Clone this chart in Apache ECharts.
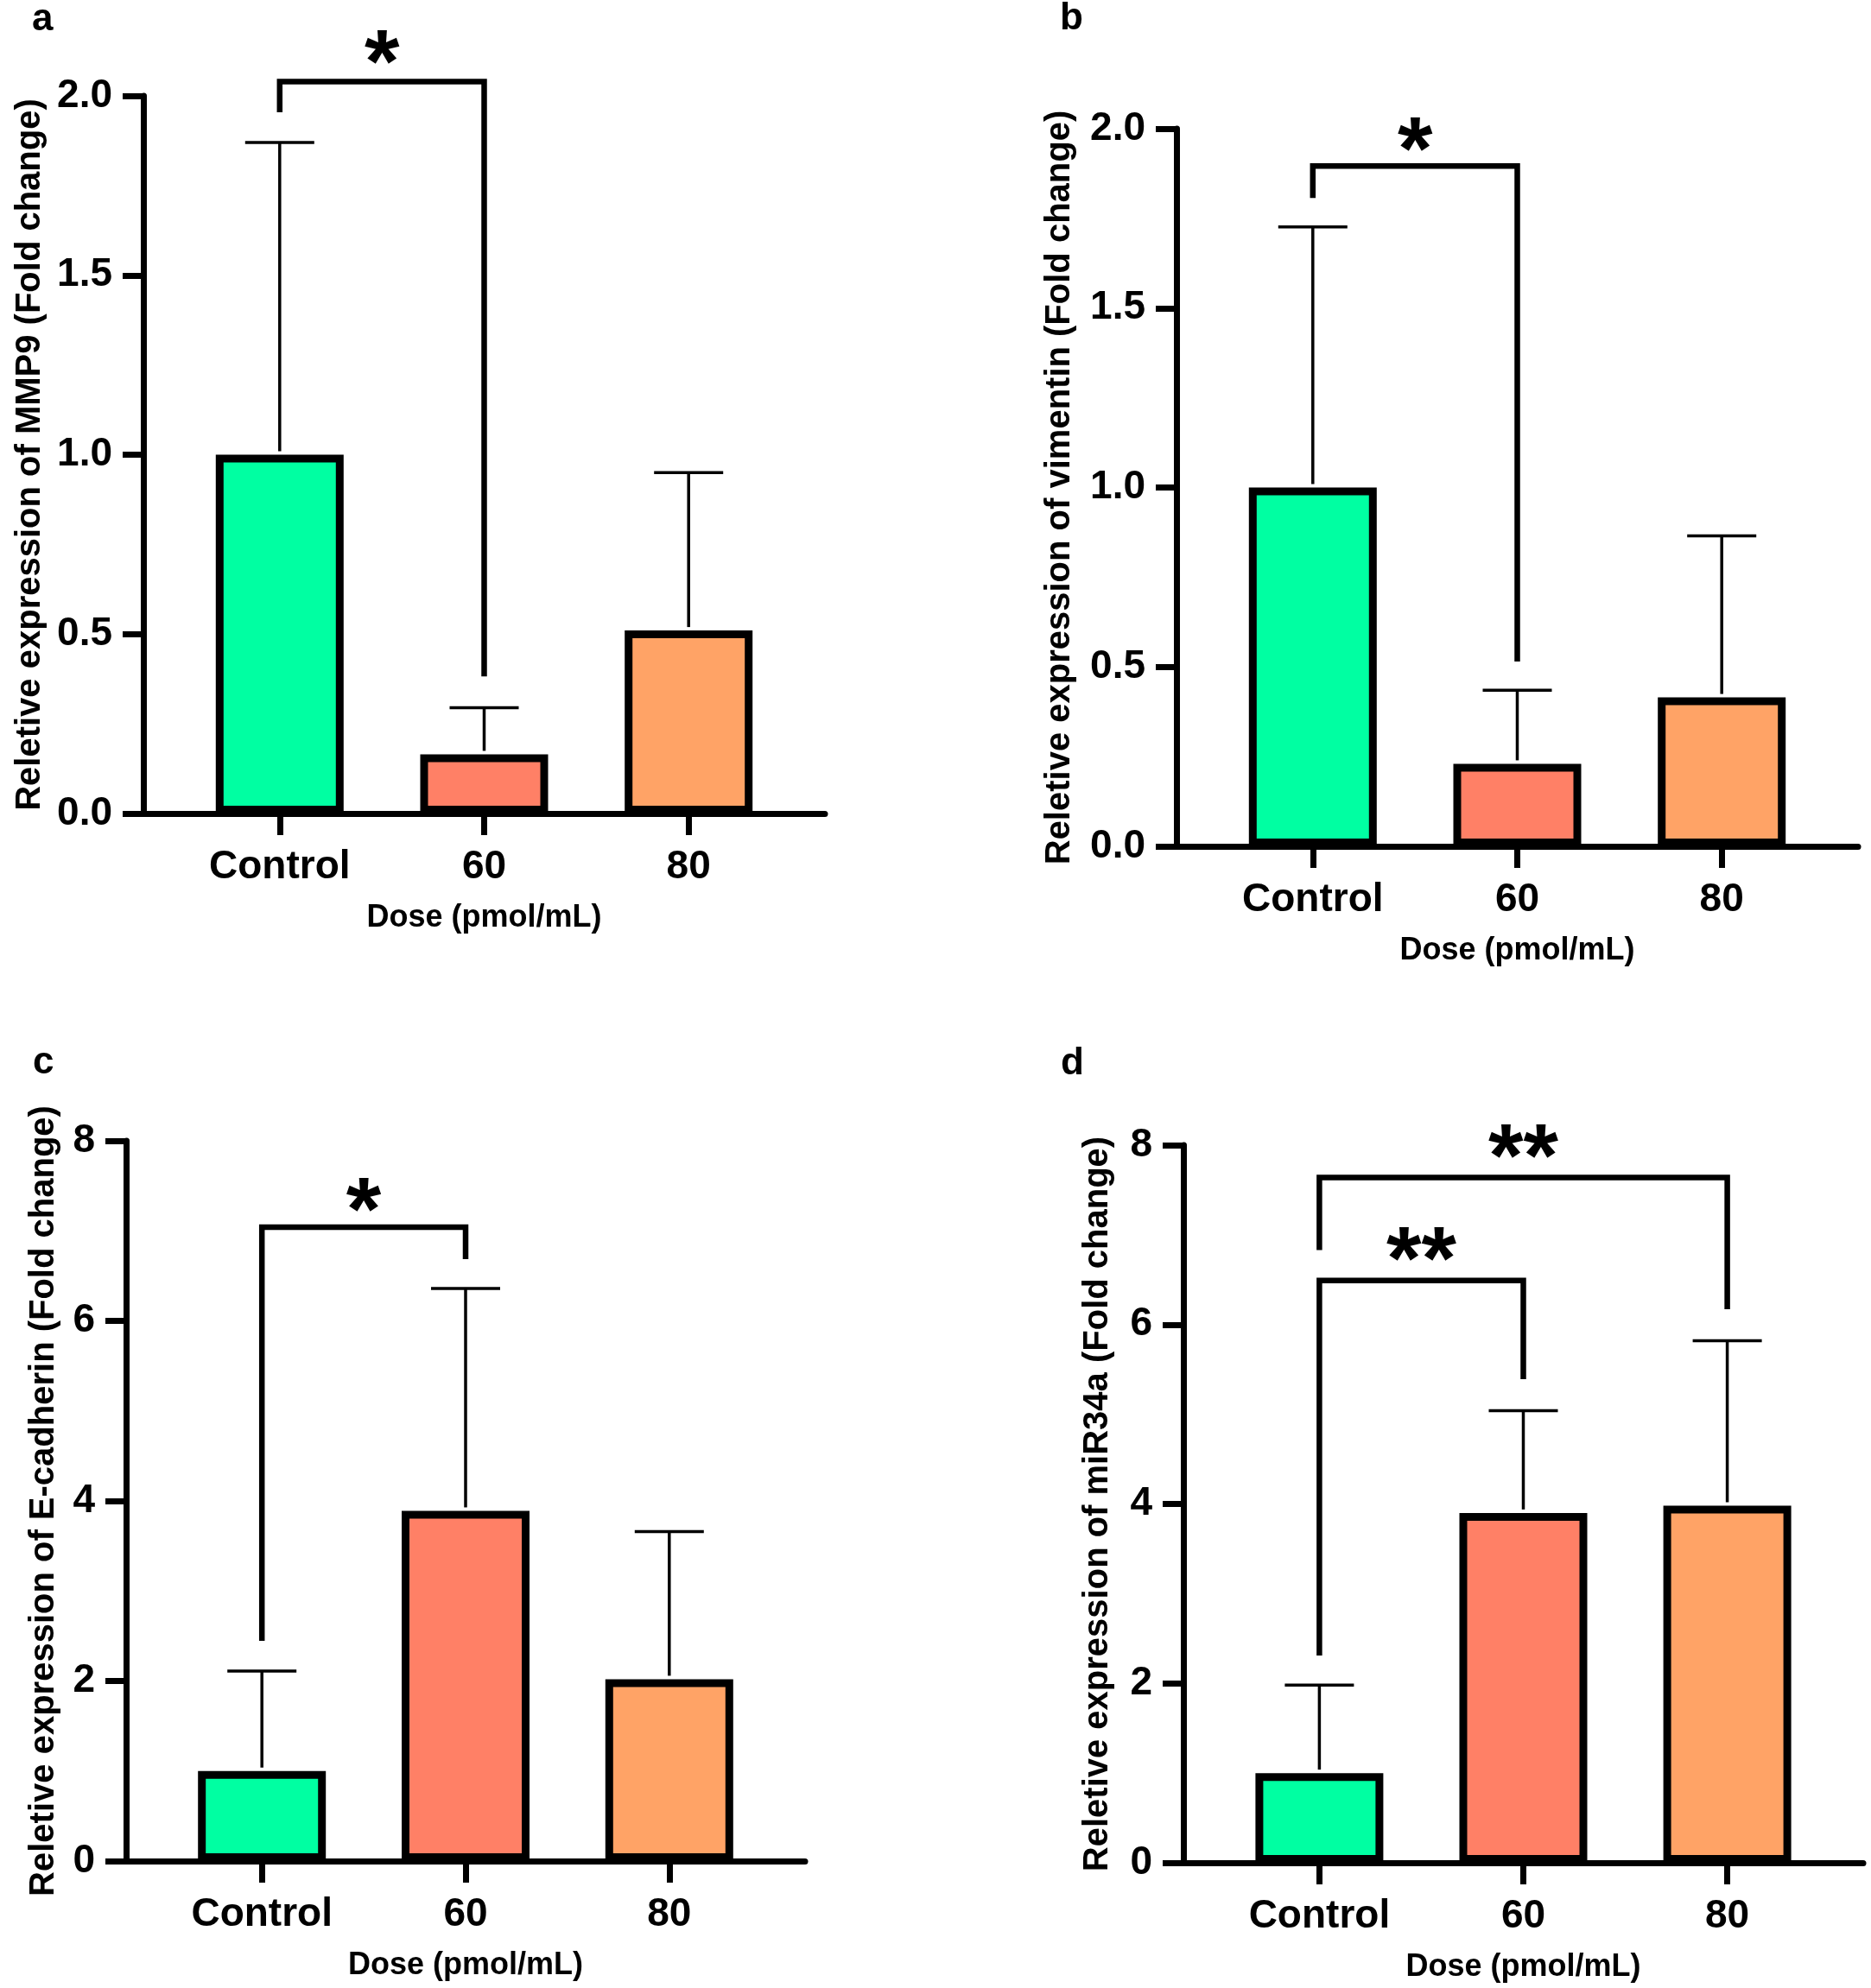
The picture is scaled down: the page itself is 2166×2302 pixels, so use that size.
<!DOCTYPE html>
<html><head><meta charset="utf-8">
<script src="https://cdn.jsdelivr.net/npm/echarts@6/dist/echarts.min.js"></script>
<style>html,body{margin:0;padding:0;background:#fff}#c{width:2166px;height:2302px}</style>
</head><body><div id="c"></div>
<script>
// ---------- data ----------
const categories = ['Control', '60', '80'];
const barColors = ['#00FFA2', '#FF8066', '#FFA366'];

const mmp9Mean = [1.0, 0.165, 0.51];
const mmp9SD   = [0.87, 0.13, 0.44];
const vimMean  = [1.0, 0.23, 0.415];
const vimSD    = [0.726, 0.205, 0.45];
const ecadMean = [1.0, 3.89, 2.02];
const ecadSD   = [1.11, 2.47, 1.64];
const mirMean  = [1.0, 3.9, 3.98];
const mirSD    = [0.98, 1.14, 1.84];

const yTicksSmall = ['0.0', '0.5', '1.0', '1.5', '2.0'];
const yTicksLarge = ['0', '2', '4', '6', '8'];

// significance brackets: [fromCat, toCat, topValue, leftEndValue, rightEndValue]
const bracketsA = [[0, 1, 2.04, 1.954, 0.382]];
const bracketsB = [[0, 1, 1.896, 1.807, 0.515]];
const bracketsC = [[0, 1, 7.04, 2.445, 6.687]];
const bracketsD = [[0, 1, 6.49, 2.31, 5.39], [0, 2, 7.64, 6.83, 6.17]];
// star marks: [fromCat, toCat, value, text]
const starsA = [[0, 1, 2.143, '*']];
const starsB = [[0, 1, 1.993, '*']];
const starsC = [[0, 1, 7.435, '*']];
const starsD = [[0, 1, 6.924, '**'], [0, 2, 8.075, '**']];

const titles = [
  'Reletive expression of MMP9 (Fold change)',
  'Reletive expression of vimentin (Fold change)',
  'Reletive expression of E-cadherin (Fold change)',
  'Reletive expression of miR34a (Fold change)'
];
const xTitle = 'Dose (pmol/mL)';
const panelLetters = ['a', 'b', 'c', 'd'];

// ---------- layout ----------
const FONT = '"Liberation Sans", Arial, Helvetica, sans-serif';
const layout = [
  {left: 166, top: 111, width: 789, height: 831, nameGap: 111, letter: [51, 27]},
  {left: 1362, top: 149, width: 789, height: 831, nameGap: 115, letter: [1241, 26]},
  {left: 146, top: 1321, width: 786, height: 834, nameGap: 75, letter: [52, 1235]},
  {left: 1370, top: 1326, width: 787, height: 831, nameGap: 79, letter: [1242, 1236]}
];
const panels = [
  {mean: mmp9Mean, sd: mmp9SD, ticks: yTicksSmall, br: bracketsA, st: starsA},
  {mean: vimMean, sd: vimSD, ticks: yTicksSmall, br: bracketsB, st: starsB},
  {mean: ecadMean, sd: ecadSD, ticks: yTicksLarge, br: bracketsC, st: starsC},
  {mean: mirMean, sd: mirSD, ticks: yTicksLarge, br: bracketsD, st: starsD}
];

const grid = [], xAxis = [], yAxis = [], series = [], graphic = [];
panels.forEach((p, i) => {
  const L = layout[i];
  grid.push({left: L.left, top: L.top, width: L.width, height: L.height, containLabel: false, outerBoundsMode: 'none'});
  const catIdx = categories.map((c, k) => k);
  xAxis.push({
    type: 'value', gridIndex: i, min: -2 / 3, max: 8 / 3,
    axisLine: {show: true, onZero: false, lineStyle: {color: '#000', width: 7}},
    axisTick: {show: true, customValues: catIdx, length: 25, lineStyle: {color: '#000', width: 7}},
    axisLabel: {show: true, customValues: catIdx, formatter: v => categories[Math.round(v)], margin: 39,
      fontSize: 46, fontWeight: 'bold', fontFamily: FONT, color: '#000'},
    splitLine: {show: false},
    name: xTitle, nameLocation: 'middle', nameGap: 103,
    nameTextStyle: {fontSize: 36, fontWeight: 'bold', fontFamily: FONT, color: '#000'}
  });
  const tmin = parseFloat(p.ticks[0]), tmax = parseFloat(p.ticks[p.ticks.length - 1]);
  const tint = parseFloat(p.ticks[1]) - tmin;
  yAxis.push({
    type: 'value', gridIndex: i, min: tmin, max: tmax, interval: tint,
    axisLine: {show: true, onZero: false, lineStyle: {color: '#000', width: 7}},
    axisTick: {show: true, length: 24, lineStyle: {color: '#000', width: 7}},
    axisLabel: {margin: 36, fontSize: 46, fontWeight: 'bold', fontFamily: FONT, color: '#000',
      formatter: v => p.ticks[Math.round((v - tmin) / tint)]},
    splitLine: {show: false},
    name: titles[i], nameLocation: 'middle', nameGap: L.nameGap,
    nameTextStyle: {fontSize: 40, fontWeight: 'bold', fontFamily: FONT, color: '#000'}
  });
  // bars
  series.push({
    type: 'bar', xAxisIndex: i, yAxisIndex: i, barWidth: 148, silent: true,
    data: p.mean.map((m, k) => ({value: [k, m], itemStyle: {color: barColors[k], borderColor: '#000', borderWidth: 9}})),
    z: 2
  });
  // error bars (upper only)
  series.push({
    type: 'custom', xAxisIndex: i, yAxisIndex: i, silent: true, z: 3,
    data: p.mean.map((m, k) => [k, m, p.sd[k]]),
    renderItem: (params, api) => {
      const x = api.value(0), m = api.value(1), e = api.value(2);
      const p0 = api.coord([x, m]), p1 = api.coord([x, m + e]);
      const st = {stroke: '#000', lineWidth: 3.5};
      return {type: 'group', children: [
        {type: 'line', shape: {x1: p0[0], y1: p0[1] - 4, x2: p1[0], y2: p1[1]}, style: st},
        {type: 'line', shape: {x1: p1[0] - 40, y1: p1[1], x2: p1[0] + 40, y2: p1[1]}, style: st}
      ]};
    }
  });
  // brackets
  series.push({
    type: 'custom', xAxisIndex: i, yAxisIndex: i, silent: true, z: 4, clip: false,
    data: p.br,
    renderItem: (params, api) => {
      const x0 = api.value(0), x1 = api.value(1), top = api.value(2), l = api.value(3), r = api.value(4);
      return {type: 'polyline', shape: {points: [api.coord([x0, l]), api.coord([x0, top]), api.coord([x1, top]), api.coord([x1, r])]},
        style: {stroke: '#000', lineWidth: 6.5, fill: null, lineJoin: 'miter'}};
    }
  });
  // stars
  series.push({
    type: 'custom', xAxisIndex: i, yAxisIndex: i, silent: true, z: 5, clip: false,
    data: p.st,
    renderItem: (params, api) => {
      const d = p.st[params.dataIndex];
      const c = api.coord([(d[0] + d[1]) / 2, d[2]]);
      return {type: 'text', style: {text: d[3], x: c[0], y: c[1] + 27, align: 'center', verticalAlign: 'middle',
        fontSize: 104, fontWeight: 'bold', fontFamily: FONT, fill: '#000'}};
    }
  });
  graphic.push({type: 'text', left: L.letter[0] - 14, top: L.letter[1] - 26,
    style: {text: panelLetters[i], fontSize: 44, fontWeight: 'bold', fontFamily: FONT, fill: '#000'}});
});

const chart = echarts.init(document.getElementById('c'), null, {renderer: 'canvas'});
chart.setOption({backgroundColor: '#fff', animation: false, grid, xAxis, yAxis, series, graphic});
</script></body></html>
